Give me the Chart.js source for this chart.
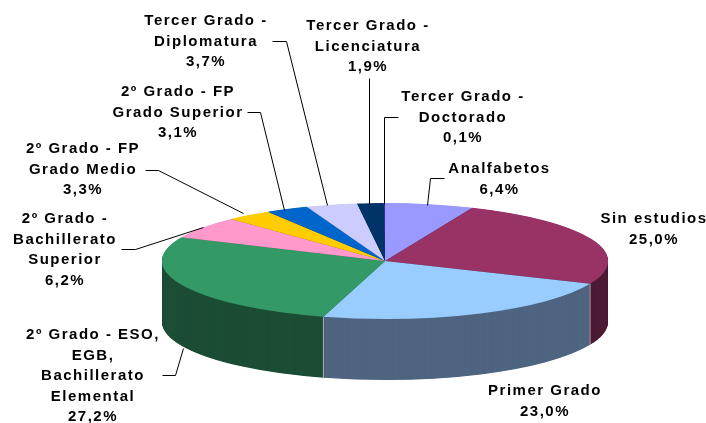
<!DOCTYPE html>
<html>
<head>
<meta charset="utf-8">
<style>html,body{margin:0;padding:0;background:#fff}canvas{display:block}</style>
<script src="https://cdn.jsdelivr.net/npm/chart.js@4"></script>
</head>
<body>
<canvas id="c" width="706" height="423"></canvas>
<script>
const categories = [
  ["Analfabetos"],
  ["Sin estudios"],
  ["Primer Grado"],
  ["2º Grado - ESO,", "EGB,", "Bachillerato", "Elemental"],
  ["2º Grado -", "Bachillerato", "Superior"],
  ["2º Grado - FP", "Grado Medio"],
  ["2º Grado - FP", "Grado Superior"],
  ["Tercer Grado -", "Diplomatura"],
  ["Tercer Grado -", "Licenciatura"],
  ["Tercer Grado -", "Doctorado"]
];
const shares = [6.4, 25.0, 23.0, 27.2, 6.2, 3.3, 3.1, 3.7, 1.9, 0.1];
const topColors = ["#9999FF","#993366","#99CCFF","#339966","#FF99CC","#FFCC00","#0066CC","#CCCCFF","#003366","#333399"];
const sideColors = ["#4D4D80","#4D1A33","#4F6580","#1C4E35","#804D66","#806600","#003366","#666680","#001A33","#1A1A4D"];

// Label layout: centre x and y of first line, line step
const labelPos = [[499.5,169],[654,219],[545,391],[93,335],[65,219],[83,149],[178,92],[206,21],[368,26],[463,97]];
const lineStep = 20.5;
// Leader lines, one per slice
const leaders = [
  [[444,178],[430,178],[427,205]],
  null,
  null,
  [[162,375],[175,375],[183,348]],
  [[121,249],[135,249],[203,227]],
  [[145,170],[158,170],[243,213]],
  [[247,112],[260,112],[284,210]],
  [[272,41],[286,41],[327,205]],
  [[369,78],[369,204]],
  [[398,117],[384,117],[384,204]]
];

// Pie geometry on the page
const centerX = 385, centerY = 261, radiusX = 223, radiusY = 58, depth = 61;

function applyTilt(ctx, arc, dy) {
  ctx.translate(arc.x, centerY + dy);
  ctx.scale(1, radiusY / radiusX);
  ctx.translate(-arc.x, -arc.y);
}

const tiltPlugin = {
  id: 'tilt',
  beforeDatasetDraw(chart, args) {
    const ctx = chart.ctx;
    const arcs = args.meta.data;
    for (let d = depth; d >= 0.5; d -= 0.5) {
      arcs.forEach((arc, i) => {
        ctx.save();
        applyTilt(ctx, arc, d);
        const ghost = Object.create(arc);
        ghost.options = Object.assign({}, arc.options, {backgroundColor: sideColors[i], borderWidth: 0});
        Chart.ArcElement.prototype.draw.call(ghost, ctx);
        ctx.restore();
      });
    }
    // light seams on the visible side faces
    ctx.save();
    ctx.strokeStyle = 'rgba(205,205,215,0.8)';
    ctx.lineWidth = 1;
    arcs.forEach(arc => {
      const a = arc.endAngle;
      const s = Math.sin(a);
      if (s > 0.05) {
        const x = arc.x + radiusX * Math.cos(a);
        const y = centerY + radiusY * s;
        ctx.beginPath();
        ctx.moveTo(x, y);
        ctx.lineTo(x, y + depth);
        ctx.stroke();
      }
    });
    ctx.restore();
    ctx.save();
    applyTilt(ctx, arcs[0], 0);
  },
  afterDatasetDraw(chart) {
    chart.ctx.restore();
  },
  afterDraw(chart) {
    const ctx = chart.ctx;
    ctx.save();
    ctx.save();
    ctx.translate(0.5, 0.5);
    ctx.strokeStyle = '#000';
    ctx.lineWidth = 1;
    leaders.forEach(pts => {
      if (!pts) return;
      ctx.beginPath();
      pts.forEach((p, i) => i ? ctx.lineTo(p[0], p[1]) : ctx.moveTo(p[0], p[1]));
      ctx.stroke();
    });
    ctx.restore();
    ctx.fillStyle = '#000';
    ctx.font = 'bold 15px "Liberation Sans", Arial, sans-serif';
    ctx.letterSpacing = '1.5px';
    ctx.textAlign = 'center';
    ctx.textBaseline = 'middle';
    categories.forEach((lines, i) => {
      const all = lines.concat([shares[i].toFixed(1).replace('.', ',') + '%']);
      all.forEach((t, j) => ctx.fillText(t, labelPos[i][0], labelPos[i][1] + j * lineStep));
    });
    ctx.restore();
  }
};

new Chart(document.getElementById('c'), {
  type: 'pie',
  data: {
    labels: categories.map(l => l.join(' ')),
    datasets: [{
      data: shares,
      backgroundColor: topColors,
      borderWidth: 0,
      clip: false
    }]
  },
  options: {
    responsive: false,
    animation: false,
    events: [],
    radius: radiusX,
    layout: {padding: {left: centerX * 2 - 706}},
    plugins: {legend: {display: false}, tooltip: {enabled: false}, title: {display: false}}
  },
  plugins: [tiltPlugin]
});
</script>
</body>
</html>
